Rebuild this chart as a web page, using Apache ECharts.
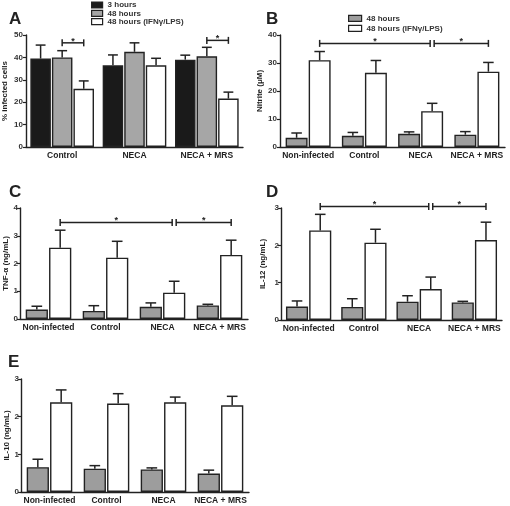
<!DOCTYPE html>
<html>
<head>
<meta charset="utf-8">
<script src="https://cdn.jsdelivr.net/npm/echarts@6/dist/echarts.min.js"></script>
<style>html,body{margin:0;padding:0;background:#fff}#c{width:510px;height:506px}</style>
</head>
<body>
<div id="c"></div>
<script>
// ---------- data ----------
const catsA = ['Control', 'NECA', 'NECA + MRS'];
const cats = ['Non-infected', 'Control', 'NECA', 'NECA + MRS'];
const seriesNames = ['3 hours', '48 hours', '48 hours (IFNγ/LPS)'];

// Panel A: % infected cells
const a3h = [39.5, 36.5, 39.0];
const a3hErr = [6.0, 4.6, 2.0];
const a48h = [40.0, 42.5, 40.5];
const a48hErr = [3.0, 4.0, 4.0];
const aIfn = [26.0, 36.5, 21.6];
const aIfnErr = [3.5, 3.1, 2.9];
const ticksA = [0, 10, 20, 30, 40, 50];
const sigA = [[0, 1, 0, 2, 46.5], [2, 1, 2, 2, 47.6]];

// Panel B: Nitrite (μM)
const b48h = [3.3, 4.0, 4.7, 4.4];
const b48hErr = [1.7, 1.2, 0.7, 1.1];
const bIfn = [31.0, 26.5, 12.8, 26.9];
const bIfnErr = [3.1, 4.4, 2.8, 3.3];
const ticksB = [0, 10, 20, 30, 40];
const sigB = [[0, 1, 2, 1, 37.0], [2, 1, 3, 1, 37.0]];

// Panel C: TNF-α (ng/mL)
const c48h = [0.34, 0.29, 0.44, 0.49];
const c48hErr = [0.12, 0.19, 0.14, 0.04];
const cIfn = [2.57, 2.21, 0.95, 2.31];
const cIfnErr = [0.63, 0.59, 0.41, 0.53];
const ticksC = [0, 1, 2, 3, 4];
const sigC = [[0, 1, 2, 1, 3.48], [2, 1, 3, 1, 3.48]];

// Panel D: IL-12 (ng/mL)
const d48h = [0.36, 0.35, 0.49, 0.47];
const d48hErr = [0.15, 0.22, 0.16, 0.03];
const dIfn = [2.40, 2.07, 0.83, 2.14];
const dIfnErr = [0.43, 0.36, 0.32, 0.48];
const ticksD = [0, 1, 2, 3];
const sigD = [[0, 1, 2, 1, 3.04], [2, 1, 3, 1, 3.04]];

// Panel E: IL-10 (ng/mL)
const e48h = [0.66, 0.62, 0.60, 0.49];
const e48hErr = [0.21, 0.08, 0.04, 0.09];
const eIfn = [2.38, 2.35, 2.38, 2.30];
const eIfnErr = [0.33, 0.26, 0.14, 0.24];
const ticksE = [0, 1, 2, 3];
const sigE = [];

// ---------- styling / layout ----------
const FONT = '"Liberation Sans", Arial, sans-serif';
const INK = '#222';
const BLACK = '#1a1a1a', GRAYA = '#a6a6a6', GRAY = '#9d9d9d', WHITE = '#ffffff';
const BAR_GAP = 0.05;

const panels = [
  { letter: 'A', letterPos: [9, 11], cats: catsA, ticks: ticksA, yName: '% infected cells', nameGap: 17,
    grid: { left: 25, top: 35, width: 218, height: 112 }, catGap: 0.12, sig: sigA, labelMargin: 3,
    bars: [{ name: seriesNames[0], v: a3h, e: a3hErr, c: BLACK },
           { name: seriesNames[1], v: a48h, e: a48hErr, c: GRAYA },
           { name: seriesNames[2], v: aIfn, e: aIfnErr, c: WHITE }] },
  { letter: 'B', letterPos: [266, 11], cats: cats, ticks: ticksB, yName: 'Nitrite (μM)', nameGap: 15,
    grid: { left: 280, top: 35, width: 225, height: 112 }, catGap: 0.2, sig: sigB, labelMargin: 3,
    bars: [{ name: seriesNames[1], v: b48h, e: b48hErr, c: GRAY },
           { name: seriesNames[2], v: bIfn, e: bIfnErr, c: WHITE }] },
  { letter: 'C', letterPos: [9, 184], cats: cats, ticks: ticksC, yName: 'TNF-α (ng/mL)', nameGap: 8,
    grid: { left: 20, top: 208, width: 228, height: 111 }, catGap: 0.2, sig: sigC, labelMargin: 2,
    bars: [{ name: seriesNames[1], v: c48h, e: c48hErr, c: GRAY },
           { name: seriesNames[2], v: cIfn, e: cIfnErr, c: WHITE }] },
  { letter: 'D', letterPos: [266, 184], cats: cats, ticks: ticksD, yName: 'IL-12 (ng/mL)', nameGap: 14,
    grid: { left: 281, top: 208, width: 221, height: 112 }, catGap: 0.18, sig: sigD, labelMargin: 2,
    bars: [{ name: seriesNames[1], v: d48h, e: d48hErr, c: GRAY },
           { name: seriesNames[2], v: dIfn, e: dIfnErr, c: WHITE }] },
  { letter: 'E', letterPos: [8, 354], cats: cats, ticks: ticksE, yName: 'IL-10 (ng/mL)', nameGap: 9,
    grid: { left: 21, top: 379, width: 228, height: 113 }, catGap: 0.2, sig: sigE, labelMargin: 2,
    bars: [{ name: seriesNames[1], v: e48h, e: e48hErr, c: GRAY },
           { name: seriesNames[2], v: eIfn, e: eIfnErr, c: WHITE }] }
];

function barCenter(api, cat, idx, n, catGap, val) {
  const band = api.size([1, 0])[0];
  const groupW = band * (1 - catGap);
  const w = groupW / (n + (n - 1) * BAR_GAP);
  const c = api.coord([cat, val]);
  return { x: c[0] - groupW / 2 + idx * w * (1 + BAR_GAP) + w / 2, y: c[1], w: w };
}

const legendText = { fontFamily: FONT, fontSize: 8, fontWeight: 'bold', color: '#333' };
const option = {
  animation: false,
  backgroundColor: '#fff',
  textStyle: { fontFamily: FONT },
  title: [], grid: [], xAxis: [], yAxis: [], series: [],
  legend: [
    { left: 91, top: 1, orient: 'vertical', itemWidth: 11, itemHeight: 6, itemGap: 0.3, selectedMode: false,
      icon: 'rect', padding: 0, textStyle: legendText,
      data: [
        { name: seriesNames[0], itemStyle: { color: BLACK, borderColor: INK, borderWidth: 1.2 } },
        { name: seriesNames[1], itemStyle: { color: GRAYA, borderColor: INK, borderWidth: 1.2 } },
        { name: seriesNames[2], itemStyle: { color: WHITE, borderColor: INK, borderWidth: 1.2 } }
      ] },
    { left: 348, top: 14.3, orient: 'vertical', itemWidth: 13, itemHeight: 6, itemGap: 2, selectedMode: false,
      icon: 'rect', padding: 0, textStyle: legendText,
      data: [
        { name: seriesNames[1], itemStyle: { color: GRAY, borderColor: INK, borderWidth: 1.2 } },
        { name: seriesNames[2], itemStyle: { color: WHITE, borderColor: INK, borderWidth: 1.2 } }
      ] }
  ]
};

panels.forEach((p, pi) => {
  option.title.push({ text: p.letter, left: p.letterPos[0], top: p.letterPos[1], padding: 0,
    textStyle: { fontFamily: FONT, fontSize: 17, fontWeight: 'bold', color: INK } });
  option.grid.push(Object.assign({ containLabel: false }, p.grid));
  option.xAxis.push({
    type: 'category', gridIndex: pi, data: p.cats,
    axisLine: { lineStyle: { color: INK, width: 1.4 } },
    axisTick: { show: false },
    axisLabel: { interval: 0, margin: 4, fontFamily: FONT, fontSize: 8.5, fontWeight: 'bold', color: INK }
  });
  const t = p.ticks;
  option.yAxis.push({
    type: 'value', gridIndex: pi, min: t[0], max: t[t.length - 1], interval: t[1] - t[0],
    name: p.yName, nameLocation: 'middle', nameGap: p.nameGap,
    nameTextStyle: { fontFamily: FONT, fontSize: 8, fontWeight: 'bold', color: INK },
    axisLine: { show: true, lineStyle: { color: INK, width: 1.4 } },
    axisTick: { show: true, length: 3, lineStyle: { color: INK, width: 1.2 } },
    axisLabel: { margin: p.labelMargin, fontFamily: FONT, fontSize: 8, fontWeight: 'bold', color: '#333' },
    splitLine: { show: false }
  });
  const n = p.bars.length;
  p.bars.forEach((b, bi) => {
    option.series.push({
      type: 'bar', name: b.name, xAxisIndex: pi, yAxisIndex: pi, data: b.v,
      barCategoryGap: (p.catGap * 100) + '%', barGap: (BAR_GAP * 100) + '%',
      itemStyle: { color: b.c, borderColor: INK, borderWidth: 1.4 }, z: 2
    });
  });
  p.bars.forEach((b, bi) => {
    option.series.push({
      type: 'custom', name: b.name + ' err', xAxisIndex: pi, yAxisIndex: pi, z: 3,
      data: b.v.map((v, i) => [i, v, b.e[i]]),
      encode: { x: 0, y: 1 },
      renderItem: function (params, api) {
        const cat = api.value(0), mean = api.value(1), err = api.value(2);
        const base = barCenter(api, cat, bi, n, p.catGap, mean);
        const top = api.coord([cat, mean + err])[1];
        const cap = base.w * 0.24;
        const st = { stroke: INK, lineWidth: 1.5 };
        return { type: 'group', children: [
          { type: 'line', shape: { x1: base.x, y1: base.y, x2: base.x, y2: top }, style: st },
          { type: 'line', shape: { x1: base.x - cap, y1: top, x2: base.x + cap, y2: top }, style: st }
        ] };
      }
    });
  });
  if (p.sig.length) {
    // nudge endpoints shared by two brackets apart
    const keys = {};
    p.sig.forEach(s => { [s[0] + '_' + s[1], s[2] + '_' + s[3]].forEach(k => { keys[k] = (keys[k] || 0) + 1; }); });
    const sdata = p.sig.map(s => [s[0], s[1], s[2], s[3], s[4],
      keys[s[0] + '_' + s[1]] > 1 ? 2 : 0, keys[s[2] + '_' + s[3]] > 1 ? -2 : 0]);
    option.series.push({
      type: 'custom', name: 'sig' + p.letter, xAxisIndex: pi, yAxisIndex: pi, z: 4,
      data: sdata, encode: { x: 0, y: 4 },
      renderItem: function (params, api) {
        const y = api.value(4);
        const a = barCenter(api, api.value(0), api.value(1), n, p.catGap, y);
        const b = barCenter(api, api.value(2), api.value(3), n, p.catGap, y);
        const x1 = a.x + api.value(5), x2 = b.x + api.value(6);
        const st = { stroke: INK, lineWidth: 1.5 };
        return { type: 'group', children: [
          { type: 'line', shape: { x1: x1, y1: a.y, x2: x2, y2: a.y }, style: st },
          { type: 'line', shape: { x1: x1, y1: a.y - 3.5, x2: x1, y2: a.y + 3.5 }, style: st },
          { type: 'line', shape: { x1: x2, y1: a.y - 3.5, x2: x2, y2: a.y + 3.5 }, style: st },
          { type: 'text', x: (x1 + x2) / 2, y: a.y - 1.5,
            style: { text: '*', fill: INK, font: 'bold 9px ' + FONT, align: 'center', verticalAlign: 'middle' } }
        ] };
      }
    });
  }
});

const chart = echarts.init(document.getElementById('c'), null, { renderer: 'canvas' });
chart.setOption(option);
</script>
</body>
</html>
